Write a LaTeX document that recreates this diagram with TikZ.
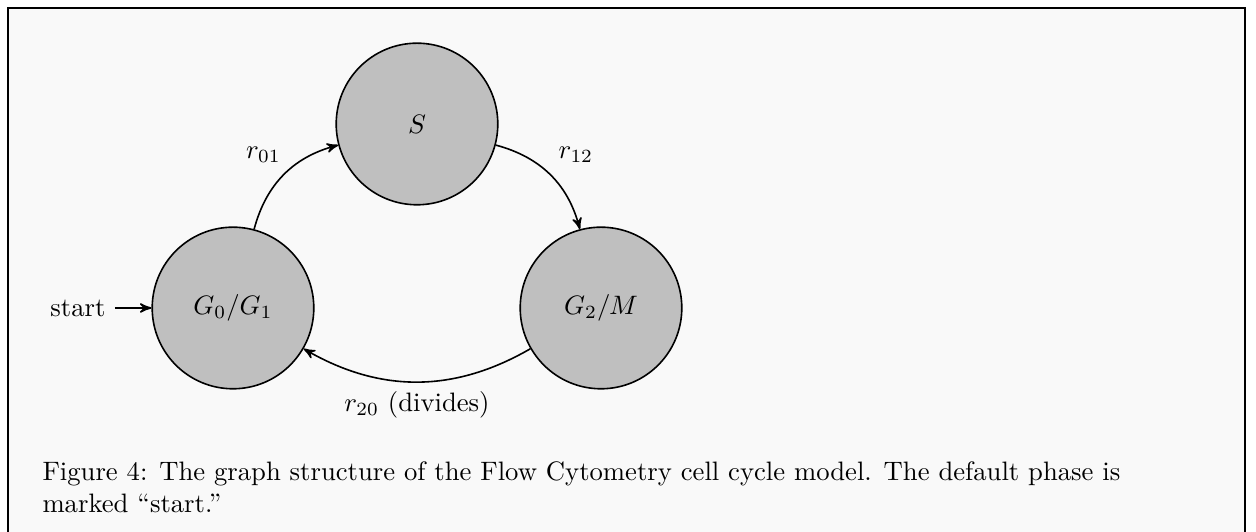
\documentclass[tikz,border=0pt]{standalone}
\usetikzlibrary{arrows}
\definecolor{pagebg}{HTML}{F9F9F9}
\definecolor{statefill}{HTML}{BFBFBF}
\begin{document}
\begin{tikzpicture}[x=0.375pt,y=0.375pt,
  state/.style={circle,draw=black,semithick,fill=statefill,minimum size=60.6pt,inner sep=0pt},
  trans/.style={->,>=stealth',semithick}]
\useasboundingbox (0,0) rectangle (1256,532);
\fill[pagebg] (8,-5) rectangle (1245,524);
\draw[line width=0.6pt] (8,-5) -- (8,524) -- (1245,524) -- (1245,-5);
\node[state] (g0) at (233,224) {$G_0/G_1$};
\node[state] (s) at (417,408) {$S$};
\node[state] (g2) at (601,224) {$G_2/M$};
\node (st) at (78,224) {start};
\draw[trans] (st) -- (g0);
\draw[trans] (g0) to[bend left=30] node[auto,pos=0.5,xshift=2.5pt,yshift=1pt] {$r_{01}$} (s);
\draw[trans] (s) to[bend left=30] node[auto,pos=0.5,xshift=-0.5pt,yshift=1pt] {$r_{12}$} (g2);
\draw[trans] (g2) to[bend left=30] node[auto] {$r_{20}$ (divides)} (g0);
\node[anchor=base west,align=left,inner sep=0pt] (cap) at (42,19) {Figure 4: The graph structure of the Flow Cytometry cell cycle model. The default phase is\\marked “start.”};
\end{tikzpicture}
\end{document}
